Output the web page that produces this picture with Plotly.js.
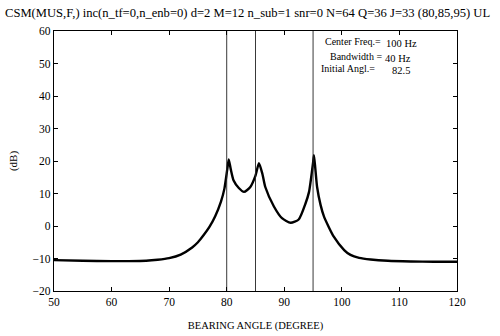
<!DOCTYPE html>
<html><head><meta charset="utf-8">
<script src="https://cdn.plot.ly/plotly-3.0.1.min.js"></script>
<style>body{margin:0;background:#fff}#c{width:500px;height:336px}</style>
</head><body><div id="c"></div>
<script>
const angle = [50,55,60,63,66,68,70,72,74,75,76,77,78,79,79.6,80.1,80.35,80.7,81.2,82.1,83,84.1,85,85.6,86.2,86.7,88.2,89.6,91.1,92.5,93.7,94.3,94.6,95.0,95.15,95.4,95.7,96.3,96.9,98.6,100.4,101.5,103,105,108,112,116,120];
const power = [-10.5,-10.7,-10.8,-10.8,-10.7,-10.4,-9.9,-8.8,-6.6,-5.0,-2.8,-0.3,3.0,7.5,11.5,17.5,20.5,17.5,14,11.7,10.5,12,15.5,19.3,16,12,6,2.4,1,2,7,10.5,14,19.5,21.8,17.5,12,6.5,2.9,-3.3,-7.4,-8.9,-9.8,-10.3,-10.7,-10.9,-11,-11];
const sourceAngles = [80,85,95];
const yRange = [-20,60];
const xTicks = [50,60,70,80,90,100,110,120];
const yTicks = [-20,-10,0,10,20,30,40,50,60];
const titleText = 'CSM(MUS,F,) inc(n_tf=0,n_enb=0) d=2 M=12 n_sub=1 snr=0 N=64 Q=36 J=33 (80,85,95) UL';
const infoLabels = ['Center Freq.=','Bandwidth =','Initial Angl.='];
const infoValues = ['100 Hz','40 Hz','82.5'];

const font = {family:'Liberation Serif, Times New Roman, serif', color:'#000', size:11};
const traces = [{x:angle, y:power, mode:'lines', line:{color:'#000', width:2.4, shape:'spline', smoothing:0.6}, hoverinfo:'none'}];
sourceAngles.forEach(a => traces.push({x:[a,a], y:yRange, mode:'lines', line:{color:'#222', width:0.9}, hoverinfo:'none'}));

const rowY = [0.958, 0.9, 0.855];
const labX = [0.667, 0.68, 0.657];
const valX = [0.82, 0.817, 0.833];
const ann = [];
infoLabels.forEach((t,i)=>ann.push({xref:'paper',yref:'paper',x:labX[i],y:rowY[i],xanchor:'left',yanchor:'middle',text:t,showarrow:false,font:{...font,size:10}}));
infoValues.forEach((t,i)=>ann.push({xref:'paper',yref:'paper',x:valX[i],y:rowY[i]-0.005,xanchor:'left',yanchor:'middle',text:t,showarrow:false,font:{...font,size:10.5}}));

const layout = {
  width:500, height:336,
  margin:{l:54, r:43, t:31, b:45},
  paper_bgcolor:'#fff', plot_bgcolor:'#fff',
  showlegend:false,
  font:font,
  title:{text:titleText, x:0.01, xanchor:'left', y:0.962, yanchor:'middle', font:{...font, size:12.6}},
  xaxis:{range:[50,120], tickvals:xTicks, ticks:'inside', ticklen:4, tickcolor:'#000', showline:true, linecolor:'#000', linewidth:1.2, mirror:'allticks', showgrid:false, zeroline:false,
    tickfont:{...font,size:11.5}, title:{text:'BEARING ANGLE (DEGREE)', font:{...font,size:10.5}, standoff:14}},
  yaxis:{range:yRange, tickvals:yTicks, ticks:'inside', ticklen:4, tickcolor:'#000', showline:true, linecolor:'#000', linewidth:1.2, mirror:'allticks', showgrid:false, zeroline:false,
    tickfont:{...font,size:11.5}, title:{text:'(dB)', font:{...font,size:11}, standoff:12}},
  annotations:ann
};
Plotly.newPlot('c', traces, layout, {staticPlot:true});
</script></body></html>
